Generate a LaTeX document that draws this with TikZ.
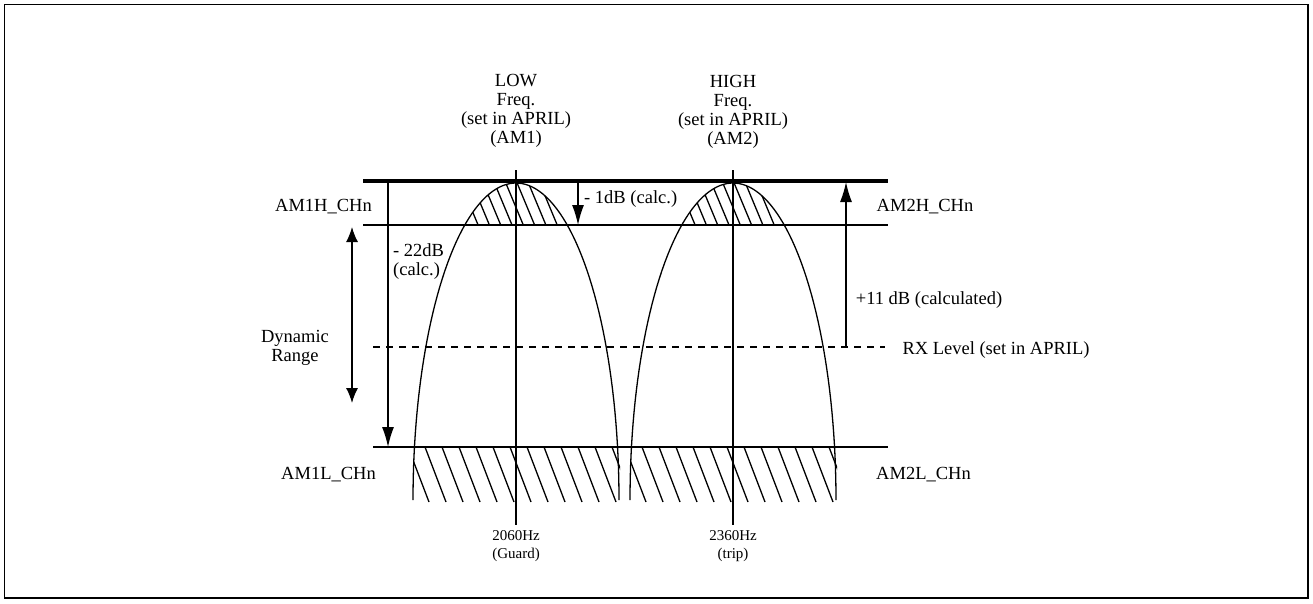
\documentclass[tikz,border=0pt]{standalone}
\usepackage{fontspec}
\setmainfont{Liberation Serif}
\usetikzlibrary{arrows.meta}

% half ellipse of one tone, centre x given
\newcommand{\lobe}[1]{plot[domain=180:0, samples=90, variable=\t] ({#1+103*cos(\t)}, {500-317*sin(\t)})}

\begin{document}
\begin{tikzpicture}[x=1pt, y=-1pt,
  lbl/.style={font=\fontsize{18.5}{19}\selectfont, inner sep=0pt, align=center},
  small/.style={font=\fontsize{15}{18}\selectfont, inner sep=0pt, align=center},
  thin/.style={line width=1.3pt},
  arr/.style={line width=1.3pt, -{Latex[length=20pt,width=12pt]}},
  dbl/.style={line width=1.3pt, {Latex[length=15pt,width=12pt]}-{Latex[length=15pt,width=12pt]}}]
  \useasboundingbox (0,0) rectangle (1313,603);
  \draw[line width=1.5pt] (4.5,4.5) rectangle (1308,598);

  % levels
  \coordinate (topL) at (363,181);  \coordinate (topR) at (888,181);
  \coordinate (hL) at (363,225);    \coordinate (hR) at (888,225);
  \coordinate (rxL) at (373,347);   \coordinate (rxR) at (885,347);
  \coordinate (lL) at (373,447);    \coordinate (lR) at (888,447);
  \draw[line width=3.2pt] (topL) -- (topR);
  \draw[thin] (hL) -- (hR);
  \draw[thin, dash pattern=on 7pt off 6pt] (rxL) -- (rxR);
  \draw[thin] (lL) -- (lR);

  % the two tones
  \foreach \c in {516,733} {
    \draw[thin] (\c,170) -- (\c,525);
    \draw[thin] \lobe{\c};
    \begin{scope}
      \clip (\c-110,181) rectangle (\c+110,225);
      \clip \lobe{\c} -- cycle;
      \foreach \k in {-3,...,4}
        \draw[thin] (\c-4+11.3*\k-17.5,183) -- (\c-4+11.3*\k,225);
    \end{scope}
    \begin{scope}
      \clip (\c-103,447) rectangle (\c+104,502);
      \foreach \k in {-2,...,11}
        \draw[thin] (\c-91+17*\k,447) -- (\c-91+17*\k+21,502);
    \end{scope}
  }

  % arrows
  \coordinate (a1s) at (578,181);  \coordinate (a1e) at (578,225);
  \coordinate (a22s) at (388,181); \coordinate (a22e) at (388,447);
  \coordinate (a11s) at (846,347); \coordinate (a11e) at (846,182);
  \coordinate (dynT) at (352,227); \coordinate (dynB) at (352,403);
  \draw[arr] (a1s) -- (a1e);
  \draw[arr] (a22s) -- (a22e);
  \draw[arr] (a11s) -- (a11e);
  \draw[dbl] (dynT) -- (dynB);

  % texts
  \node[lbl] (low) at (516,111) {LOW\\Freq.\\(set in APRIL)\\(AM1)};
  \node[lbl] (high) at (733,112) {HIGH\\Freq.\\(set in APRIL)\\(AM2)};
  \node[lbl] (am1h) at (323.5,207) {AM1H\_CHn};
  \node[lbl] (am1l) at (328.5,475) {AM1L\_CHn};
  \node[lbl] (am2h) at (925,207) {AM2H\_CHn};
  \node[lbl] (am2l) at (923.5,475) {AM2L\_CHn};
  \node[lbl] (rx) at (996,350) {RX Level (set in APRIL)};
  \node[lbl] (cal11) at (929,300) {+11 dB (calculated)};
  \node[lbl, anchor=west] (cal1) at (584,199) {- 1dB (calc.)};
  \node[lbl, anchor=west, align=left] (cal22) at (393,262) {- 22dB\\(calc.)};
  \node[lbl] (dyn) at (295,348) {Dynamic\\Range};
  \node[small] (flow) at (516,546) {2060Hz\\(Guard)};
  \node[small] (fhigh) at (733,546) {2360Hz\\(trip)};
\end{tikzpicture}
\end{document}
